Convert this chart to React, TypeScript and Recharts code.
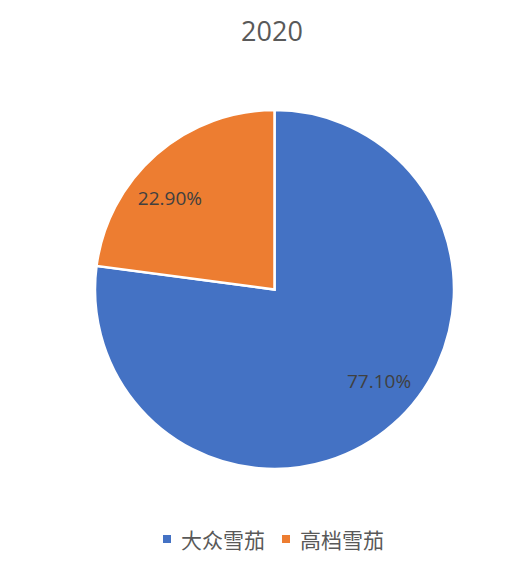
import { PieChart, Pie, Cell, Legend } from 'recharts';

const categories = ['大众雪茄', '高档雪茄'];
const shares = [77.1, 22.9];
const colors = ['#4472C4', '#ED7D31'];
const title = '2020';

const data = categories.map((name, i) => ({ name, value: shares[i] }));

const RAD = Math.PI / 180;

const renderLabel = ({ cx, cy, midAngle, outerRadius, value }: any) => {
  // Excel places these a little counter-clockwise of the slice middle
  const a = (midAngle + 7.5) * RAD;
  const r = outerRadius * 0.775;
  const x = cx + r * Math.cos(a);
  const y = cy - r * Math.sin(a);
  return (
    <text
      x={x}
      y={y}
      textAnchor="middle"
      dominantBaseline="central"
      fill="#404040"
      fontSize={19}
      fontFamily="'Open Sans', sans-serif"
    >
      {value.toFixed(2)}%
    </text>
  );
};

const LegendContent = ({ payload }: any) => (
  <div
    style={{
      display: 'flex',
      justifyContent: 'center',
      alignItems: 'center',
      paddingLeft: 48,
      height: 30,
      fontFamily: "'Noto Sans CJK SC', sans-serif",
      fontSize: 21,
      color: '#595959',
    }}
  >
    {(payload || []).map((p: any, i: number) => (
      <div key={i} style={{ display: 'flex', alignItems: 'center', marginRight: 17 }}>
        <span style={{ width: 8, height: 8, background: p.color, marginRight: 10, display: 'inline-block' }} />
        <span>{p.value}</span>
      </div>
    ))}
  </div>
);

export default function App() {
  return (
    <div style={{ position: 'relative', width: 500, height: 559 }}>
      <div
        style={{
          position: 'absolute',
          top: 4,
          left: 0,
          width: 528,
          textAlign: 'center',
          fontFamily: "'Open Sans', sans-serif",
          fontSize: 27,
          color: '#595959',
        }}
      >
        {title}
      </div>
      <PieChart width={500} height={559}>
        <Pie
          data={data}
          dataKey="value"
          nameKey="name"
          cx={261.5}
          cy={276.5}
          outerRadius={179.5}
          startAngle={90}
          endAngle={-270}
          stroke="#ffffff"
          strokeWidth={2.5}
          label={renderLabel}
          labelLine={false}
          isAnimationActive={false}
        >
          {data.map((d, i) => (
            <Cell key={d.name} fill={colors[i]} />
          ))}
        </Pie>
        <Legend
          content={<LegendContent />}
          wrapperStyle={{ top: 516, left: 0, width: 500 }}
        />
      </PieChart>
    </div>
  );
}
